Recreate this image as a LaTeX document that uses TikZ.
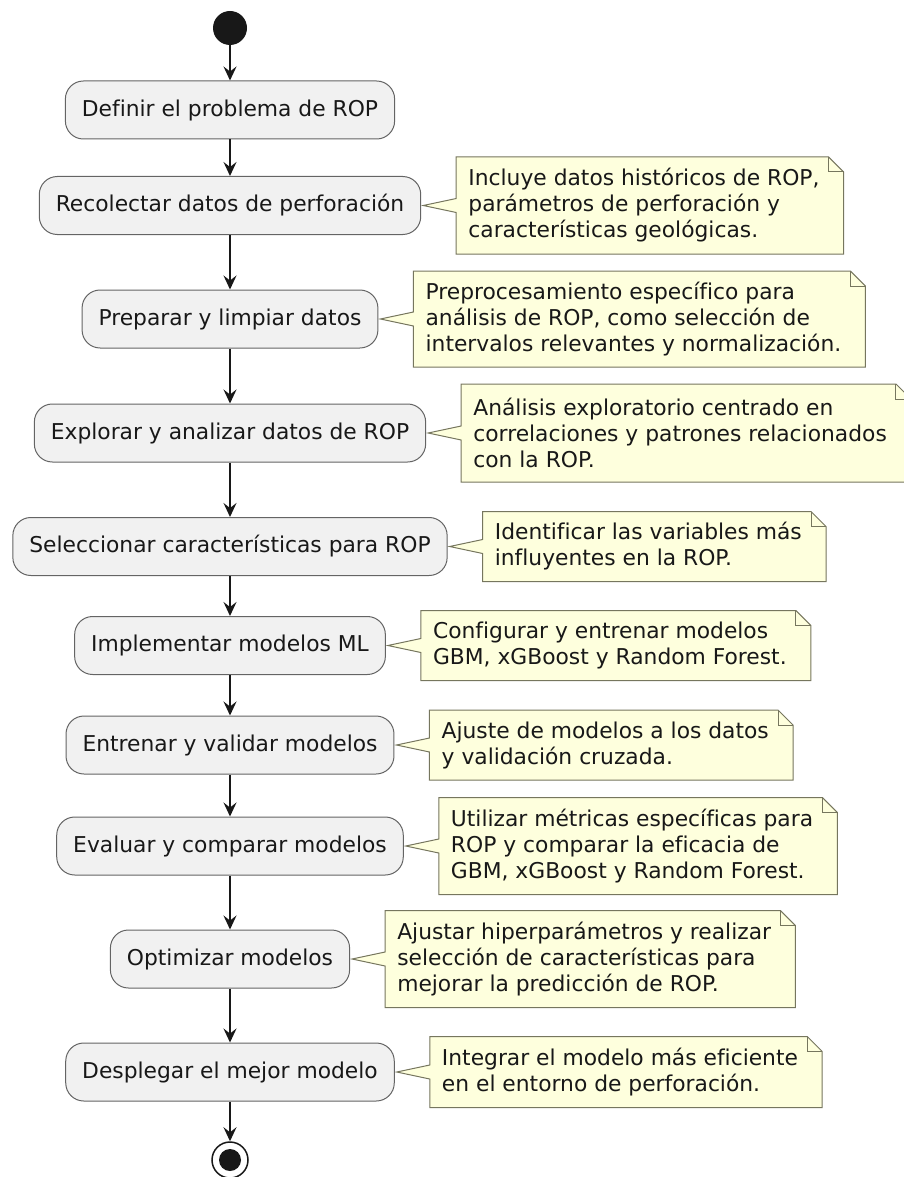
\documentclass[tikz,border=0pt]{standalone}
\usepackage{fontspec}
\setmainfont[Ligatures=NoCommon]{DejaVu Sans}
\usetikzlibrary{calc,arrows.meta,backgrounds}
\definecolor{actfill}{HTML}{F1F1F1}
\definecolor{actline}{HTML}{646464}
\definecolor{notefill}{HTML}{FEFFDD}
\definecolor{noteline}{HTML}{76765E}
\definecolor{ink}{HTML}{181818}
\tikzset{
  actbox/.style={draw=actline, fill=actfill, line width=1pt, rounded corners=18pt,
    minimum height=58pt, inner xsep=16.5pt, font=\fontsize{21.8}{26}\selectfont, text=ink},
  notetext/.style={inner sep=0pt, align=left, font=\fontsize{21.8}{26}\selectfont, text=ink},
  noteframe/.style={draw=noteline, fill=notefill, line width=1pt, line join=miter},
  notefold/.style={draw=noteline, line width=1pt},
  flow/.style={draw=ink, line width=1.6pt, -{Stealth[length=14pt,width=13pt,inset=5pt]}},
  startdot/.style={circle, fill=ink, minimum size=34pt, inner sep=0pt},
  enddot/.style={circle, draw=ink, line width=1.5pt, fill=white, minimum size=36pt, inner sep=0pt},
  endcore/.style={circle, fill=ink, minimum size=22pt, inner sep=0pt},
}
\newcommand\ropnote[4]{%
  \node[notetext, anchor=west] (#1) at ([xshift=47pt]#2.east) {#4};
  \coordinate (#1tip) at ([xshift=2pt]#2.east);
  \begin{scope}[on background layer]
    \path[noteframe] ($(#1.west)+(-12,#3)$) -- ($(#1.east)+(9,#3)$)
      -- ($(#1.east)+(24,#3-15)$) -- ($(#1.east)+(24,-#3)$)
      -- ($(#1.west)+(-12,-#3)$) -- ($(#1.west)+(-12,-7)$)
      -- (#1tip) -- ($(#1.west)+(-12,7)$) -- cycle;
    \path[notefold] ($(#1.east)+(9,#3)$) -- ($(#1.east)+(9,#3-15)$) -- ($(#1.east)+(24,#3-15)$);
  \end{scope}}
\begin{document}
\begin{tikzpicture}[x=1pt,y=1pt]
  \useasboundingbox (0,0) rectangle (904,-1177);
  \clip (0,0) rectangle (904,-1177);

  \node[startdot] (start) at (230,-28) {};
  \node[actbox] (b1) at (230,-110) {Definir el problema de ROP};
  \node[actbox] (b2) at (230,-205.5) {Recolectar datos de perforación};
  \node[actbox] (b3) at (230,-319) {Preparar y limpiar datos};
  \node[actbox] (b4) at (230,-433) {Explorar y analizar datos de ROP};
  \node[actbox] (b5) at (230,-546.5) {Seleccionar características para ROP};
  \node[actbox] (b6) at (230,-645.5) {Implementar modelos ML};
  \node[actbox] (b7) at (230,-745) {Entrenar y validar modelos};
  \node[actbox] (b8) at (230,-846) {Evaluar y comparar modelos};
  \node[actbox] (b9) at (230,-959) {Optimizar modelos};
  \node[actbox] (b10) at (230,-1072) {Desplegar el mejor modelo};
  \node[enddot] (stop) at (230,-1160) {};
  \node[endcore] (stopcore) at (stop.center) {};

  \draw[flow] (start) -- (b1);
  \draw[flow] (b1) -- (b2);
  \draw[flow] (b2) -- (b3);
  \draw[flow] (b3) -- (b4);
  \draw[flow] (b4) -- (b5);
  \draw[flow] (b5) -- (b6);
  \draw[flow] (b6) -- (b7);
  \draw[flow] (b7) -- (b8);
  \draw[flow] (b8) -- (b9);
  \draw[flow] (b9) -- (b10);
  \draw[flow] (b10) -- (stop);

  \ropnote{n1}{b2}{48.5}{Incluye datos históricos de ROP,\\parámetros de perforación y\\características geológicas.}
  \ropnote{n2}{b3}{48}{Preprocesamiento específico para\\análisis de ROP, como selección de\\intervalos relevantes y normalización.}
  \ropnote{n3}{b4}{49}{Análisis exploratorio centrado en\\correlaciones y patrones relacionados\\con la ROP.}
  \ropnote{n4}{b5}{35}{Identificar las variables más\\influyentes en la ROP.}
  \ropnote{n5}{b6}{35}{Configurar y entrenar modelos\\GBM, xGBoost y Random Forest.}
  \ropnote{n6}{b7}{35}{Ajuste de modelos a los datos\\y validación cruzada.}
  \ropnote{n7}{b8}{48.5}{Utilizar métricas específicas para\\ROP y comparar la eficacia de\\GBM, xGBoost y Random Forest.}
  \ropnote{n8}{b9}{48.5}{Ajustar hiperparámetros y realizar\\selección de características para\\mejorar la predicción de ROP.}
  \ropnote{n9}{b10}{35.5}{Integrar el modelo más eficiente\\en el entorno de perforación.}
\end{tikzpicture}
\end{document}
